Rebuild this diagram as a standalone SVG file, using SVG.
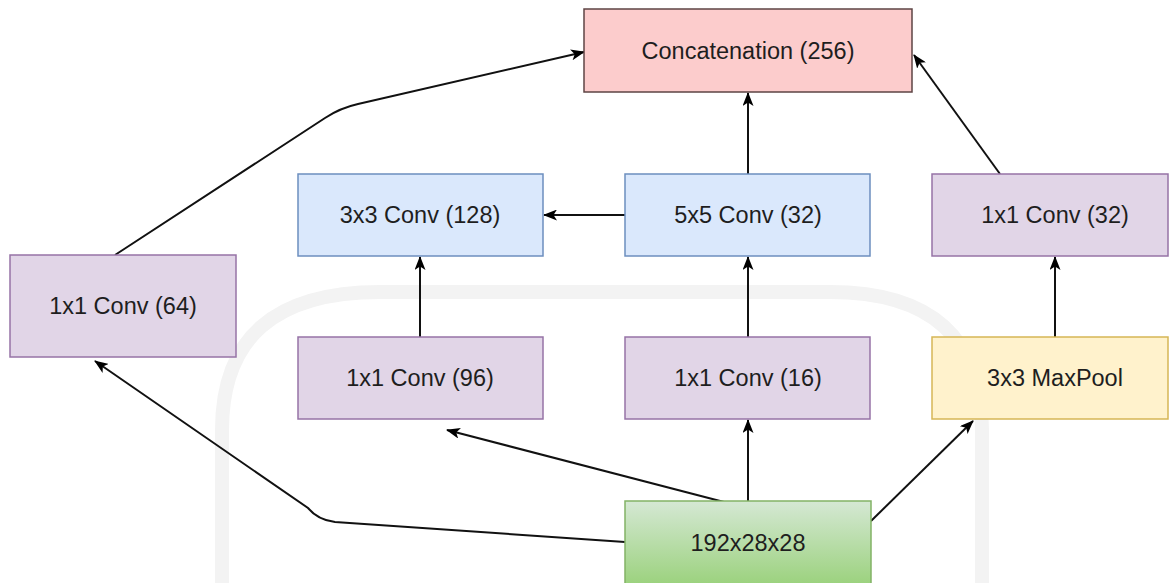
<svg xmlns="http://www.w3.org/2000/svg" width="1170" height="583" viewBox="0 0 1170 583">
  <defs>
    <marker id="arrow" viewBox="0 0 14 11" refX="13" refY="5.5" markerWidth="14" markerHeight="11" markerUnits="userSpaceOnUse" orient="auto">
      <path d="M0,0 L14,5.5 L0,11 L3.5,5.5 Z" fill="#000"/>
    </marker>
    <linearGradient id="greenFill" x1="0" y1="0" x2="0" y2="1">
      <stop offset="0" stop-color="#d5e8d4"/>
      <stop offset="1" stop-color="#97d077"/>
    </linearGradient>
    <style>
      .lbl { font-family: "Liberation Sans", Arial, sans-serif; font-size: 23.5px; fill: #1e1e1e; text-anchor: middle; dominant-baseline: central; }
      .red { fill: #fccccc; stroke: #5e4444; stroke-width: 1.5; }
      .blue { fill: #dae8fc; stroke: #6c8ebf; stroke-width: 1.5; }
      .purple { fill: #e1d5e7; stroke: #9673a6; stroke-width: 1.5; }
      .yellow { fill: #fff2cc; stroke: #d6b656; stroke-width: 1.5; }
      .green { fill: url(#greenFill); stroke: #82b366; stroke-width: 1.5; }
      .edge { fill: none; stroke: #111; stroke-width: 2; marker-end: url(#arrow); }
      .mark { fill: none; stroke: #f3f3f3; stroke-width: 14; }
    </style>
  </defs>

  <rect width="1170" height="583" fill="#fff"/>

  <!-- faint background emblem -->
  <g id="emblem">
    <path class="mark" d="M222,583 L222,430 Q222,292 380,292 L830,292 Q982,292 982,430 L982,583"/>
  </g>

  <g id="connectors">
    <!-- input to each branch -->
    <path class="edge" d="M625,542 L335,522 Q318,520 308,508 L95,361"/>
    <path class="edge" d="M724,502 L447,430"/>
    <path class="edge" d="M748,502 L748,420"/>
    <path class="edge" d="M871,521 L973,421"/>
    <!-- inner branch links -->
    <path class="edge" d="M420,337 L420,257"/>
    <path class="edge" d="M748,337 L748,257"/>
    <path class="edge" d="M1055,337 L1055,257"/>
    <path class="edge" d="M625,215 L544,215"/>
    <!-- into concatenation -->
    <path class="edge" d="M748,174 L748,93"/>
    <path class="edge" d="M1000,174 L914,55"/>
    <path class="edge" d="M115,255 L325,118 Q340,108 358,104 L584,52"/>
  </g>

  <g id="concat">
    <rect class="red" x="584" y="9" width="328" height="83"/>
    <text class="lbl" x="748" y="51">Concatenation (256)</text>
  </g>
  <g id="conv3x3">
    <rect class="blue" x="298" y="174" width="245" height="82"/>
    <text class="lbl" x="420" y="215">3x3 Conv (128)</text>
  </g>
  <g id="conv5x5">
    <rect class="blue" x="625" y="174" width="245" height="82"/>
    <text class="lbl" x="748" y="215">5x5 Conv (32)</text>
  </g>
  <g id="conv1x1_32">
    <rect class="purple" x="932" y="174" width="236" height="82"/>
    <text class="lbl" x="1055" y="215">1x1 Conv (32)</text>
  </g>
  <g id="conv1x1_64">
    <rect class="purple" x="10" y="255" width="226" height="102"/>
    <text class="lbl" x="123" y="306">1x1 Conv (64)</text>
  </g>
  <g id="conv1x1_96">
    <rect class="purple" x="298" y="337" width="245" height="82"/>
    <text class="lbl" x="420" y="378">1x1 Conv (96)</text>
  </g>
  <g id="conv1x1_16">
    <rect class="purple" x="625" y="337" width="245" height="82"/>
    <text class="lbl" x="748" y="378">1x1 Conv (16)</text>
  </g>
  <g id="maxpool">
    <rect class="yellow" x="932" y="337" width="236" height="82"/>
    <text class="lbl" x="1055" y="378">3x3 MaxPool</text>
  </g>
  <g id="input">
    <rect class="green" x="625" y="501" width="246" height="90"/>
    <text class="lbl" x="748" y="543">192x28x28</text>
  </g>
</svg>
